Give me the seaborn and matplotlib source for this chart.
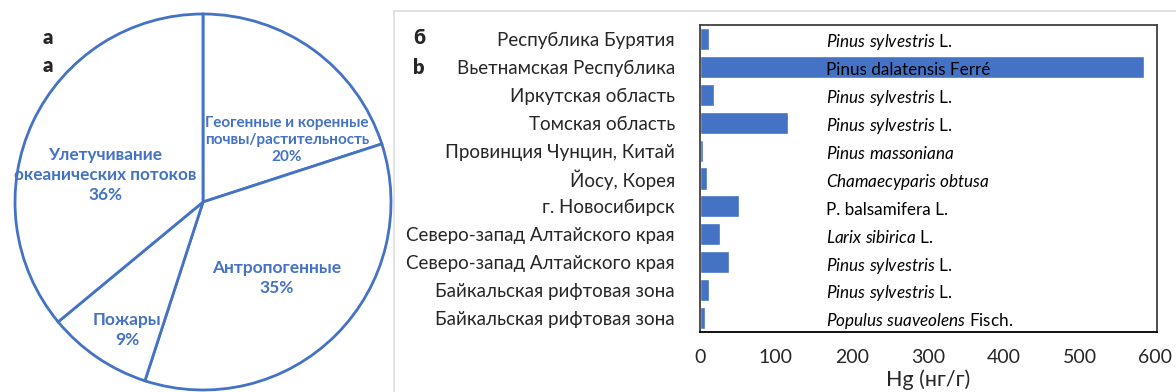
import matplotlib
matplotlib.use("Agg")
import matplotlib.pyplot as plt
import matplotlib.lines as mlines
import seaborn as sns
import pandas as pd

# ---- data -------------------------------------------------------------
source_names = [
    "Геогенные и коренные\nпочвы/растительность",
    "Антропогенные",
    "Пожары",
    "Улетучивание\nокеанических потоков",
]
source_share = [20, 35, 9, 36]

regions = [
    "Республика Бурятия",
    "Вьетнамская Республика",
    "Иркутская область",
    "Томская область",
    "Провинция Чунцин, Китай",
    "Йосу, Корея",
    "г. Новосибирск",
    "Северо-запад Алтайского края",
    "Северо-запад Алтайского края",
    "Байкальская рифтовая зона",
    "Байкальская рифтовая зона",
]
hg_values = [12, 585, 18, 116, 4, 9, 51, 26, 38, 12, 7]

# species: italic part, upright part
species_italic = [
    "Pinus sylvestris", "", "Pinus sylvestris", "Pinus sylvestris",
    "Pinus massoniana", "Chamaecyparis obtusa", "", "Larix sibirica",
    "Pinus sylvestris", "Pinus sylvestris", "Populus suaveolens",
]
species_plain = [
    "L.", "Pinus dalatensis Ferré", "L.", "L.",
    "", "", "P. balsamifera L.", "L.",
    "L.", "L.", "Fisch.",
]

x_ticks = [0, 100, 200, 300, 400, 500, 600]

# ---- style ------------------------------------------------------------
sns.set_theme(style="white")
plt.rcParams["font.family"] = ["Lato", "DejaVu Sans"]
plt.rcParams["mathtext.fontset"] = "custom"
plt.rcParams["mathtext.it"] = "Lato:italic"
plt.rcParams["mathtext.rm"] = "Lato"

BLUE = "#4472C4"
W, H = 1176, 392
fig = plt.figure(figsize=(W / 100, H / 100), dpi=100)
fig.patch.set_facecolor("white")

# ---- pie --------------------------------------------------------------
cx, cy, r = 203, 202, 188
ax_pie = fig.add_axes([(cx - r) / W, (H - cy - r) / H, 2 * r / W, 2 * r / H])
wedges, _ = ax_pie.pie(
    source_share, startangle=90, counterclock=False, radius=1.0,
    colors=["white"] * len(source_share),
    wedgeprops=dict(edgecolor=BLUE, linewidth=2.0),
)
for w in wedges:
    w.set_clip_on(False)
ax_pie.set_xlim(-1, 1)
ax_pie.set_ylim(-1, 1)
ax_pie.set_aspect("equal")
ax_pie.axis("off")

label_pos = [(0.447, 0.33), (0.394, -0.404), (-0.404, -0.681), (-0.52, 0.144)]
label_size = [11, 12.5, 12.5, 12.3]
for name, share, (lx, ly), fs in zip(source_names, source_share, label_pos, label_size):
    ax_pie.text(lx, ly, f"{name}\n{share}%", ha="center", va="center",
                color=BLUE, fontsize=fs, fontweight="bold", linespacing=1.3)

fig.text(48 / W, 1 - 37 / H, "a", fontsize=14.5, fontweight="heavy", ha="center", va="center")
fig.text(48 / W, 1 - 65 / H, "a", fontsize=14.5, fontweight="heavy", ha="center", va="center")

# ---- bar chart --------------------------------------------------------
left, right, top, bottom = 700, 1157, 25, 332
ax = fig.add_axes([left / W, (H - bottom) / H, (right - left) / W, (bottom - top) / H])
df = pd.DataFrame({"row": list(range(len(regions))), "hg": hg_values})
sns.barplot(data=df, x="hg", y="row", orient="h", color=BLUE, saturation=1,
            width=0.79, ax=ax)
ax.set_xlim(0, 602)
ax.set_ylim(len(regions) - 0.5, -0.5)
ax.set_yticks(range(len(regions)))
ax.set_yticklabels(regions, fontsize=13.5)
ax.set_xticks(x_ticks)
ax.set_xticklabels([str(t) for t in x_ticks], fontsize=14)
ax.tick_params(axis="y", length=0, pad=18)
ax.tick_params(axis="x", length=0, pad=12)
ax.set_ylabel("")
ax.set_xlabel("Hg (нг/г)", fontsize=15.5, labelpad=3)
for s in ax.spines.values():
    s.set_visible(True)
    s.set_color("#404040")
    s.set_linewidth(1.3)
ax.spines["bottom"].set_color("black")

for i, (it, pl) in enumerate(zip(species_italic, species_plain)):
    parts = []
    if it:
        parts.append(r"$\mathit{" + it.replace(" ", r"\ ") + "}$")
    if pl:
        parts.append(pl)
    ax.text(166, i + 0.12, " ".join(parts), fontsize=12.3, ha="left", va="center",
            color="black")

fig.text(419 / W, 1 - 38 / H, "б", fontsize=14.5, fontweight="heavy", ha="center", va="center")
fig.text(419 / W, 1 - 67 / H, "b", fontsize=14.5, fontweight="heavy", ha="center", va="center")

# faint panel border
fig.add_artist(mlines.Line2D([394 / W, 1], [1 - 11 / H, 1 - 11 / H], color="#dddddd", lw=1.2))
fig.add_artist(mlines.Line2D([394 / W, 394 / W], [0, 1 - 11 / H], color="#dddddd", lw=1.2))

fig.savefig("out.png", dpi=100, facecolor="white")
